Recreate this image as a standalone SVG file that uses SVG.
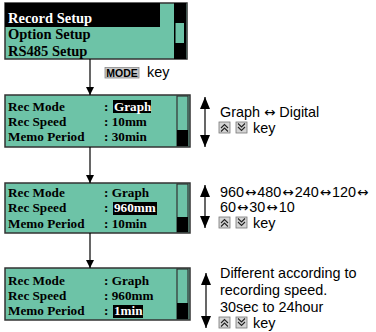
<svg xmlns="http://www.w3.org/2000/svg" width="376" height="332" viewBox="0 0 376 332">
<style>
.scr{fill:#6dc3a7;stroke:#333;stroke-width:1.2}
.lt{font-family:"Liberation Serif",serif;font-weight:bold;font-size:13.2px;fill:#000}
.mt{font-family:"Liberation Serif",serif;font-weight:bold;font-size:14.5px;fill:#000}
.rt{font-family:"Liberation Sans",Arial,sans-serif;font-size:14.4px;fill:#000}
.ar{font-family:"DejaVu Sans",sans-serif;font-size:13.5px}
.wt{fill:#fff}
.conn{stroke:#000;stroke-width:1.2;fill:none}
.key{fill:#d4d4d4;stroke:#777;stroke-width:0.8}
.chev{fill:none;stroke:#222;stroke-width:1.1}
</style>
<defs>
<marker id="ah" viewBox="0 0 10 10" refX="10" refY="5" markerWidth="8" markerHeight="8" markerUnits="userSpaceOnUse" orient="auto">
<path d="M0,0 L10,5 L0,10 Z" fill="#000"/>
</marker>
<marker id="dh" viewBox="0 0 12 10" refX="12" refY="5" markerWidth="12" markerHeight="10" markerUnits="userSpaceOnUse" orient="auto-start-reverse">
<path d="M0,0 L12,5 L0,10 Z" fill="#000"/>
</marker>
<g id="upkey"><rect class="key" x="0" y="0" width="11" height="11"/><path class="chev" d="M2,6 L5.5,2.5 L9,6 M2,9.5 L5.5,6 L9,9.5"/></g>
<g id="dnkey"><rect class="key" x="0" y="0" width="11" height="11"/><path class="chev" d="M2,1.5 L5.5,5 L9,1.5 M2,5 L5.5,8.5 L9,5"/></g>
<clipPath id="c1"><rect x="5" y="3" width="182" height="56"/></clipPath>
</defs>

<g id="menu">
<rect x="5" y="3" width="182" height="56" fill="#6dc3a7" stroke="#333" stroke-width="1.5"/>
<g clip-path="url(#c1)">
<rect x="5" y="3" width="155" height="24" fill="#000"/>
<text class="mt wt" x="8" y="23">Record Setup</text>
<text class="mt" x="8" y="39">Option Setup</text>
<text class="mt" x="8" y="56">RS485 Setup</text>
</g>
<rect x="174" y="3" width="12" height="56" fill="#000"/>
<rect x="175.5" y="23" width="8.5" height="20" fill="#6dc3a7"/>
</g>

<g id="mode-key">
<rect x="105" y="67.5" width="34" height="10.5" fill="#c8c8c8" stroke="#888" stroke-width="0.8"/>
<text x="122" y="77" text-anchor="middle" font-family="Liberation Sans,Arial,sans-serif" font-weight="bold" font-size="10.5px" fill="#000">MODE</text>
<text class="rt" x="147" y="77">key</text>
</g>

<g id="screen-mode">
<rect x="5" y="95" width="185" height="52" fill="#6dc3a7" stroke="#333" stroke-width="1.5"/>
<rect class="scr" x="177" y="96" width="11" height="50"/>
<rect x="177" y="130" width="11" height="16" fill="#000"/>
<rect x="113" y="100" width="38" height="13" fill="#000"/>
<text class="lt" x="8" y="111">Rec Mode</text>
<text class="lt" x="104" y="111">:</text>
<text class="lt wt" x="114" y="111">Graph</text>
<text class="lt" x="8" y="126">Rec Speed</text>
<text class="lt" x="104" y="126">: 10mm</text>
<text class="lt" x="8" y="141">Memo Period</text>
<text class="lt" x="104" y="141">: 30min</text>
</g>

<g id="screen-speed">
<rect x="5" y="183" width="185" height="50" fill="#6dc3a7" stroke="#333" stroke-width="1.5"/>
<rect class="scr" x="177" y="184" width="11" height="48"/>
<rect x="177" y="217" width="11" height="15" fill="#000"/>
<rect x="113" y="202" width="44" height="13" fill="#000"/>
<text class="lt" x="8" y="197">Rec Mode</text>
<text class="lt" x="104" y="197">: Graph</text>
<text class="lt" x="8" y="212">Rec Speed</text>
<text class="lt" x="104" y="212">:</text>
<text class="lt wt" x="114" y="212">960mm</text>
<text class="lt" x="8" y="228">Memo Period</text>
<text class="lt" x="104" y="228">: 10min</text>
</g>

<g id="screen-memo">
<rect x="5" y="268" width="185" height="52" fill="#6dc3a7" stroke="#333" stroke-width="1.5"/>
<rect class="scr" x="177" y="269" width="11" height="50"/>
<rect x="177" y="303" width="11" height="16" fill="#000"/>
<rect x="113" y="305" width="30" height="13" fill="#000"/>
<text class="lt" x="8" y="285">Rec Mode</text>
<text class="lt" x="104" y="285">: Graph</text>
<text class="lt" x="8" y="300">Rec Speed</text>
<text class="lt" x="104" y="300">: 960mm</text>
<text class="lt" x="8" y="315">Memo Period</text>
<text class="lt" x="104" y="315">:</text>
<text class="lt wt" x="114" y="315">1min</text>
</g>

<g id="note-mode">
<text class="rt" x="220" y="117">Graph <tspan class="ar">↔</tspan> Digital</text>
<use href="#upkey" x="219" y="122"/>
<use href="#dnkey" x="236" y="122"/>
<text class="rt" x="253" y="133">key</text>
</g>

<g id="note-speed">
<text class="rt" x="220" y="197">960<tspan class="ar" dx="1">↔</tspan><tspan dx="1">480</tspan><tspan class="ar" dx="1">↔</tspan><tspan dx="1">240</tspan><tspan class="ar" dx="1">↔</tspan><tspan dx="1">120</tspan><tspan class="ar" dx="1">↔</tspan></text>
<text class="rt" x="220" y="212">60<tspan class="ar" dx="1">↔</tspan><tspan dx="1">30</tspan><tspan class="ar" dx="1">↔</tspan><tspan dx="1">10</tspan></text>
<use href="#upkey" x="219" y="217"/>
<use href="#dnkey" x="236" y="217"/>
<text class="rt" x="253" y="228">key</text>
</g>

<g id="note-memo">
<text class="rt" x="220" y="278">Different according to</text>
<text class="rt" x="220" y="295">recording speed.</text>
<text class="rt" x="220" y="312">30sec to 24hour</text>
<use href="#upkey" x="219" y="317"/>
<use href="#dnkey" x="236" y="317"/>
<text class="rt" x="253" y="328">key</text>
</g>

<g id="connectors">
<line class="conn" x1="90" y1="59" x2="90" y2="95" marker-end="url(#ah)"/>
<line class="conn" x1="90" y1="147" x2="90" y2="183" marker-end="url(#ah)"/>
<line class="conn" x1="90" y1="233" x2="90" y2="268" marker-end="url(#ah)"/>
<line class="conn" x1="205" y1="97" x2="205" y2="147" marker-start="url(#dh)" marker-end="url(#dh)"/>
<line class="conn" x1="205" y1="185" x2="205" y2="228" marker-start="url(#dh)" marker-end="url(#dh)"/>
<line class="conn" x1="206" y1="273" x2="206" y2="328" marker-start="url(#dh)" marker-end="url(#dh)"/>
</g>
</svg>
